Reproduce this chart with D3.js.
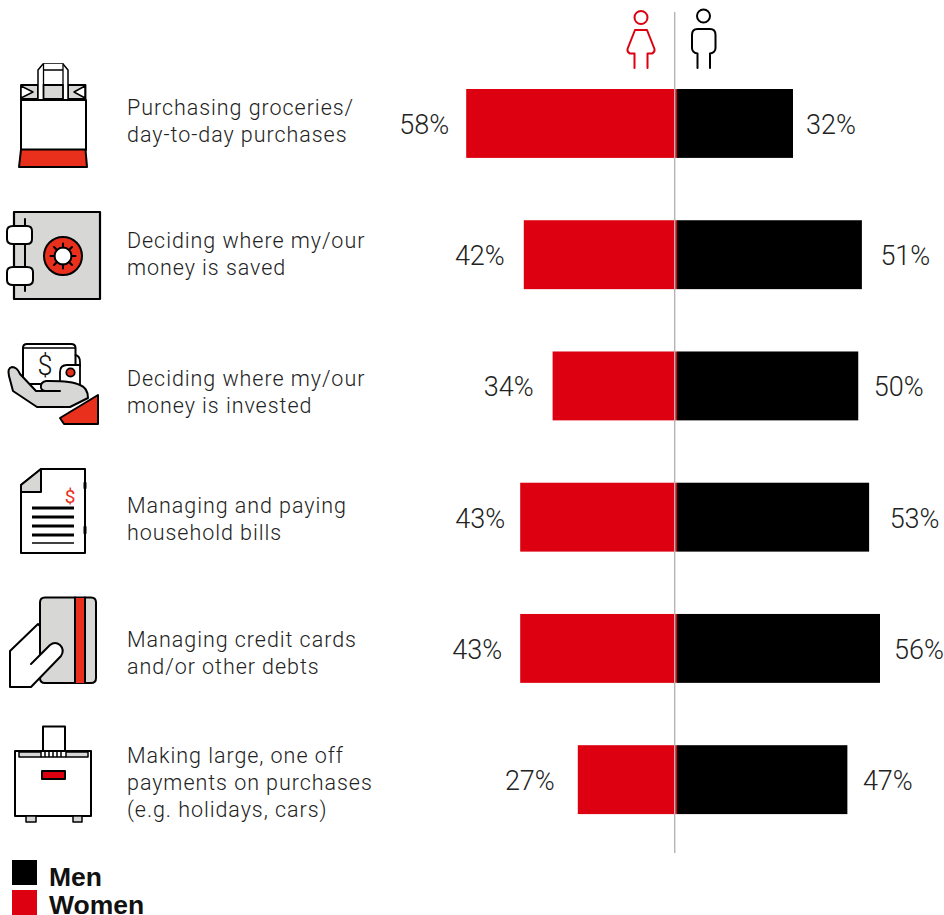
<!DOCTYPE html>
<html><head><meta charset="utf-8">
<script src="https://cdn.jsdelivr.net/npm/d3@7"></script>
<style>html,body{margin:0;padding:0;background:#fff}svg{display:block}
text{font-family:Roboto,sans-serif;font-weight:300;fill:#222}</style></head>
<body><svg id="c" width="944" height="915"></svg>
<script>
const categories=[
 ["Purchasing groceries/","day-to-day purchases"],
 ["Deciding where my/our","money is saved"],
 ["Deciding where my/our","money is invested"],
 ["Managing and paying","household bills"],
 ["Managing credit cards","and/or other debts"],
 ["Making large, one off","payments on purchases","(e.g. holidays, cars)"]];
const women=[58,42,34,43,43,27];
const men=[32,51,50,53,56,47];
const legendLabels=["Men","Women"];
const RED="#dc0011",ICONRED="#e8301c",GREY="#d7d8d6",BLK="#000";
const cx=677;
const svg=d3.select("#c");
const y=d3.scaleBand().domain(d3.range(categories.length)).range([89,814.1]).paddingInner(0.475).paddingOuter(0);
const xW=d3.scaleLinear().domain([0,100]).range([675,675-360]);
const xM=d3.scaleLinear().domain([0,100]).range([cx,cx+362.5]);
const nudgeW=[0,-2,-2,2,-1,-6], nudgeM=[-4,1.5,-1.5,3.5,-3,-1.5];

svg.selectAll("rect.w").data(women).join("rect").attr("class","w")
 .attr("x",d=>xW(d)).attr("y",(d,i)=>y(i)).attr("width",d=>cx-xW(d)).attr("height",y.bandwidth()).attr("fill",RED);
svg.selectAll("rect.m").data(men).join("rect").attr("class","m")
 .attr("x",xM(0)).attr("y",(d,i)=>y(i)).attr("width",d=>xM(d)-xM(0)).attr("height",y.bandwidth()).attr("fill",BLK);
svg.append("line").attr("x1",674.7).attr("x2",674.7).attr("y1",12).attr("y2",853).attr("stroke","#b5b5b5").attr("stroke-width",1.4);

svg.selectAll("text.vw").data(women).join("text").attr("class","vw")
 .attr("x",(d,i)=>xW(d)-17+nudgeW[i]).attr("y",(d,i)=>y(i)+y.bandwidth()/2+10.5)
 .attr("text-anchor","end").attr("font-size",27).text(d=>d+"%");
svg.selectAll("text.vm").data(men).join("text").attr("class","vm")
 .attr("x",(d,i)=>xM(d)+17+nudgeM[i]).attr("y",(d,i)=>y(i)+y.bandwidth()/2+10.5)
 .attr("font-size",27).text(d=>d+"%");

const labelY=[114.5,247.5,385.5,512.5,647,762.5];
const lab=svg.selectAll("text.cat").data(categories).join("text").attr("class","cat")
 .attr("font-size",21.5).attr("letter-spacing",0.95);
lab.each(function(lines,i){
  d3.select(this).selectAll("tspan").data(lines).join("tspan")
   .attr("x",127).attr("y",(d,j)=>labelY[i]+j*27).text(d=>d);
});

// legend
const lg=svg.append("g");
lg.selectAll("rect").data(legendLabels).join("rect").attr("x",12).attr("y",(d,i)=>860+i*30).attr("width",25).attr("height",25)
 .attr("fill",(d,i)=>i?RED:BLK);
lg.selectAll("text").data(legendLabels).join("text").attr("x",49).attr("y",(d,i)=>886+i*28)
 .attr("font-size",26.5).style("font-weight",700).style("fill","#111").style("font-family","'Liberation Sans',sans-serif").text(d=>d);

// icons
function P(g,d,fill,sw,stroke){return g.append("path").attr("d",d).attr("fill",fill||"none").attr("stroke",stroke||BLK)
 .attr("stroke-width",sw==null?2:sw).attr("stroke-linejoin","round").attr("stroke-linecap","round");}
// people
let g=svg.append("g");
g.append("circle").attr("cx",641).attr("cy",17.5).attr("r",6.5).attr("fill","none").attr("stroke",RED).attr("stroke-width",2);
P(g,"M635 30H647L654.500 49Q655 52.500 652 53.500H647.500V68M635 30L627.500 49Q627 52.500 630 53.500H634.500V68",null,2,RED);
g.append("circle").attr("cx",703.500).attr("cy",16).attr("r",6.500).attr("fill","none").attr("stroke",BLK).attr("stroke-width",2);
P(g,"M697.500 29H710Q715.500 29 715.500 35V48Q715.500 52.500 710 53.500V68M697.500 29Q692 29 692 35V48Q692 52.500 697.500 53.500V68",null,2);

// bag
g=svg.append("g");
P(g,"M21 100H86V150H21Z","#fff");
P(g,"M21 85H38V99H21Z M68 85H85.500V99H68Z",GREY,1.800);
P(g,"M21 86L33 92L21 98ZM85 86L74 92L85 98Z","#fff",1.500);
P(g,"M38 99V70L43 64H63L68 70V99","#fff",1.500);
P(g,"M43.500 64V70H63V64M43.500 70V85H63V70","#fff",1.300);
P(g,"M43.500 85H63V99H43.500Z",GREY,1.800);
P(g,"M21 149.500H85.500L87 167H19Z",ICONRED);
// safe
g=svg.append("g");
P(g,"M14 212H100V299H14Z",GREY,2.200);
P(g,"M25 219V291",null,2);
P(g,"M14 226H27Q32 226 32 231V239Q32 244 27 244H13Q7 244 7 239V231Q7 226 13 226Z","#fff");
P(g,"M14 267H27Q33 267 33 272V280Q33 285 27 285H13Q7 285 7 280V272Q7 267 13 267Z","#fff");
g.append("circle").attr("cx",63).attr("cy",256).attr("r",19).attr("fill",ICONRED).attr("stroke",BLK).attr("stroke-width",2);
g.append("circle").attr("cx",63).attr("cy",256).attr("r",8.500).attr("fill","#fff").attr("stroke",BLK).attr("stroke-width",2);
P(g,"M63 243.500V247.500M63 264.500V268.500M50.500 256H54.500M71.500 256H75.500M54 247L57 250M69 262L72 265M54 265L57 262M69 250L72 247",null,2);
// wallet + hand
g=svg.append("g");
P(g,"M27 344H71Q75.500 344 75.500 348V384H23V348Q23 344 27 344Z","#fff");
P(g,"M24 348H75",null,1.500);
P(g,"M75.500 355Q80 356 80 362V366",null,1.800);
P(g,"M60 385V372Q60 365 67 365H80V385Z","#fff",1.800);
g.append("circle").attr("cx",70.500).attr("cy",372.500).attr("r",4.200).attr("fill",ICONRED).attr("stroke",BLK).attr("stroke-width",1.800);
g.append("text").attr("x",45).attr("y",375).attr("text-anchor","middle").attr("font-size",27).style("fill","#111").style("font-weight",300).text("$");
P(g,"M20 374Q17 367 12 367Q7 368 9 376L13 391L37 407H70L88 398Q88 388 80 385Q72 381 50 381H46Q40 382 41 388Q42 391 47 391H60H40L36 391Z",GREY);
P(g,"M60 418L98 395V424H64Z",ICONRED);
// bill
g=svg.append("g");
P(g,"M41 469H85V553H21V485Z","#fff");
P(g,"M41 469V492H21V485Z",GREY);
g.append("text").attr("x",70).attr("y",503).attr("text-anchor","middle").attr("font-size",19).style("fill",ICONRED).style("font-weight",400).text("$");
[508,517,526,535,543].forEach((yy,i)=>P(g,`M32 ${yy}H74`,null,i==4?1.600:3).attr("stroke-linecap","butt"));
P(g,"M85 483V488M85 527V533",null,3);
// card + hand
g=svg.append("g");
P(g,"M45 597.500H91Q96 597.500 96 602.500V678Q96 683 91 683H45Q40 683 40 678V602.500Q40 597.500 45 597.500Z",GREY);
g.append("rect").attr("x",75).attr("y",598).attr("width",10).attr("height",85).attr("fill",ICONRED);
P(g,"M75 597.500V683M85 597.500V683",null,2);
P(g,"M38 624L10 651V687H31L61 656Q65 650 60 645Q55 641 50 645L31 664L40 655V626Z","#fff");
// suitcase / printer
g=svg.append("g");
P(g,"M43 726.500H65V752H43Z","#fff");
P(g,"M15 751H91V816H15Z","#fff");
P(g,"M19 752H41V757H19ZM66 752H88V757H66Z",GREY,1.500);
P(g,"M45 752V757M49 752V757M53 752V757M57 752V757M61 752V757M41 757H66",null,1.500).attr("stroke-linecap","butt");
P(g,"M42 771H65V779H42Z",RED);
P(g,"M26 816H36V822H26ZM73 816H82V822H73Z",GREY,1.500);
</script></body></html>
